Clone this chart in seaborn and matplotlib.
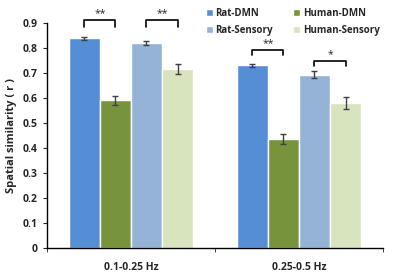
import numpy as np
import pandas as pd
import matplotlib
matplotlib.use('Agg')
from matplotlib import pyplot as plt
import seaborn as sns

bands = ['0.1-0.25 Hz', '0.25-0.5 Hz']
groups = ['Rat-DMN', 'Human-DMN', 'Rat-Sensory', 'Human-Sensory']
rat_dmn = [0.838, 0.730]
human_dmn = [0.590, 0.435]
rat_sensory = [0.818, 0.692]
human_sensory = [0.717, 0.578]
err_rat_dmn = [0.005, 0.006]
err_human_dmn = [0.017, 0.019]
err_rat_sensory = [0.008, 0.014]
err_human_sensory = [0.020, 0.024]
colors = ['#558ed5', '#77933c', '#95b3d7', '#d7e4bd']

# (band index, left group, right group, label, bracket top)
sig = [(0, 0, 1, '**', 0.912), (0, 2, 3, '**', 0.912),
       (1, 0, 1, '**', 0.792), (1, 2, 3, '*', 0.748)]

def BuildFrame():
    rows = []
    vals = [rat_dmn, human_dmn, rat_sensory, human_sensory]
    errs = [err_rat_dmn, err_human_dmn, err_rat_sensory, err_human_sensory]
    for g, v, e in zip(groups, vals, errs):
        for b, vi, ei in zip(bands, v, e):
            rows.append({'band': b, 'group': g, 'r': vi, 'err': ei})
    return pd.DataFrame(rows)

def MakePlot(df):
    sns.set_style('white')
    plt.rcParams['font.family'] = ['Open Sans', 'DejaVu Sans']
    plt.rcParams['font.weight'] = 'bold'
    fig = plt.figure(figsize=(3.94, 2.79), dpi=100)
    ax = fig.add_axes([0.119, 0.111, 0.853, 0.807])
    sns.barplot(data=df, x='band', y='r', hue='group', hue_order=groups,
                palette=colors, order=bands, width=0.74, saturation=1,
                errorbar=None, ax=ax, legend=True)
    # error bars from bar patches
    centers = {}
    bar_conts = list(ax.containers)
    for gi, cont in enumerate(bar_conts):
        sub = df[df.group == groups[gi]].set_index('band').loc[bands]
        for bi, p in enumerate(cont.patches):
            xc = p.get_x() + p.get_width() / 2
            centers[(bi, gi)] = (xc, p.get_height())
            ax.errorbar(xc, p.get_height(), yerr=sub['err'].iloc[bi],
                        color='#404040', capsize=2.5, lw=1, capthick=1)
    for bi, g1, g2, lab, top in sig:
        x1 = centers[(bi, g1)][0]
        x2 = centers[(bi, g2)][0]
        h = 0.03 if top > 0.8 else 0.022
        ax.plot([x1, x1, x2, x2], [top - h, top, top, top - h], color='black',
                lw=1.2, clip_on=False)
        ax.text((x1 + x2) / 2, top + 0.004, lab, ha='center', va='bottom',
                fontsize=7.5, fontweight='normal', clip_on=False)
    ax.set_ylim(0, 0.9)
    ax.set_xlim(-0.5, 1.5)
    ax.set_yticks(np.arange(0, 0.91, 0.1))
    ax.set_yticklabels(['0'] + ['%.1f' % v for v in np.arange(0.1, 0.91, 0.1)])
    ax.set_xticks([0, 1])
    ax.set_xticklabels(bands)
    ax.set_xticks([-0.5, 0.5, 1.5], minor=True)
    ax.tick_params(axis='x', which='major', length=0, pad=10, labelsize=7.5)
    ax.tick_params(axis='x', which='minor', length=3, direction='out', bottom=True)
    ax.tick_params(axis='y', length=3, direction='out', left=True, labelsize=7.5)
    ax.set_xlabel('')
    ax.set_ylabel('Spatial similarity ( r )', fontsize=8, fontweight='bold')
    for s in ['top', 'right']:
        ax.spines[s].set_visible(False)
    for s in ['left', 'bottom']:
        ax.spines[s].set_color('black')
        ax.spines[s].set_linewidth(1)
    handles, labels = ax.get_legend_handles_labels()
    idx = [0, 2, 1, 3]
    ax.legend([handles[i] for i in idx], [labels[i] for i in idx],
              loc='upper left', bbox_to_anchor=(0.505, 0.995), bbox_transform=fig.transFigure,
              ncol=2, frameon=False, fontsize=7, handlelength=0.7, handleheight=0.7,
              handletextpad=0.3, columnspacing=2.1, labelspacing=0.55, borderaxespad=0.3)
    fig.savefig('out.png', dpi=100)

def main():
    df = BuildFrame()
    MakePlot(df)

if __name__ == '__main__':
    main()
